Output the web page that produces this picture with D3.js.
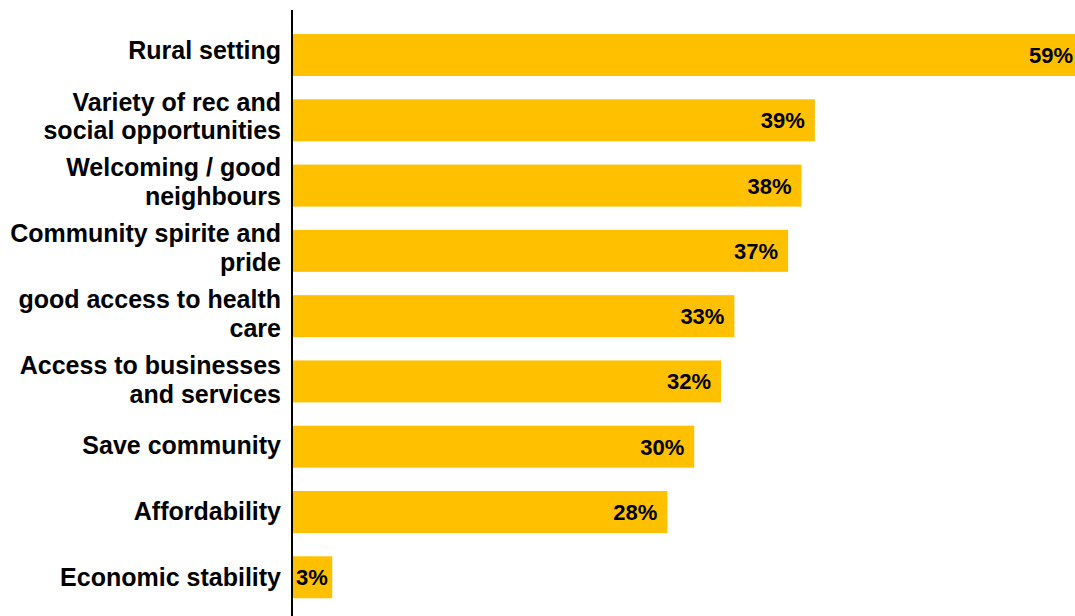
<!DOCTYPE html>
<html>
<head>
<meta charset="utf-8">
<script src="https://cdn.jsdelivr.net/npm/d3@7"></script>
<style>
  html, body { margin: 0; padding: 0; background: #fff; }
  svg { display: block; }
  text { font-family: "Liberation Sans", Arial, sans-serif; font-weight: bold; fill: #000; }
</style>
</head>
<body>
<svg id="chart" width="1075" height="616"></svg>
<script>
// Survey responses: what residents value most about their community
const categories = [
  "Rural setting",
  "Variety of rec and\nsocial opportunities",
  "Welcoming / good\nneighbours",
  "Community spirite and\npride",
  "good access to health\ncare",
  "Access to businesses\nand services",
  "Save community",
  "Affordability",
  "Economic stability"
];
const values = [59, 39, 38, 37, 33, 32, 30, 28, 3];
const valueLabels = ["59%", "39%", "38%", "37%", "33%", "32%", "30%", "28%", "3%"];

const width = 1075, height = 616;
const axisX = 292;

const svg = d3.select("#chart");

const x = d3.scaleLinear().domain([0, 59]).range([axisX, 1083]);
const y = d3.scaleBand()
  .domain(categories)
  .range([22.3, 610])
  .paddingInner(0.357)
  .paddingOuter(0.18);

// Category labels sit on their own evenly spaced points
const yLabel = d3.scalePoint()
  .domain(categories)
  .range([49.5, 577]);

// Bars
svg.append("g")
  .selectAll("rect")
  .data(values)
  .join("rect")
  .attr("x", x(0))
  .attr("y", (d, i) => y(categories[i]))
  .attr("width", d => x(d) - x(0))
  .attr("height", y.bandwidth())
  .attr("fill", "#FFC000");

// Value labels at the inner end of each bar (left-aligned when the bar is short)
svg.append("g")
  .selectAll("text")
  .data(values)
  .join("text")
  .each(function(d, i) {
    const narrow = x(d) - x(0) < 60;
    d3.select(this)
      .attr("x", narrow ? x(0) + 4 : x(d) - 10)
      .attr("text-anchor", narrow ? "start" : "end");
  })
  .attr("y", (d, i) => y(categories[i]) + y.bandwidth() / 2)
  .attr("dy", "0.36em")
  .style("font-size", "22px")
  .text((d, i) => valueLabels[i]);

// Category axis
const axis = d3.axisLeft(yLabel).tickSize(0).tickPadding(11);
const gAxis = svg.append("g")
  .attr("transform", `translate(${axisX},0)`)
  .call(axis);

gAxis.select(".domain").remove();
gAxis.append("line")
  .attr("x1", 0).attr("x2", 0)
  .attr("y1", 10).attr("y2", height)
  .attr("stroke", "#000")
  .attr("stroke-width", 2);

const lineGap = 28.5;
gAxis.selectAll(".tick text").each(function(d) {
  const lines = d.split("\n");
  const t = d3.select(this)
    .attr("dy", null)
    .attr("y", null)
    .style("font-size", "25px")
    .style("font-family", "'Liberation Sans', Arial, sans-serif")
    .style("font-weight", "bold")
    .attr("fill", "#000")
    .text(null);
  lines.forEach((ln, i) => {
    t.append("tspan")
      .attr("x", -11)
      .attr("y", 8.8 - (lines.length - 1) * lineGap / 2 + i * lineGap)
      .text(ln);
  });
});
</script>
</body>
</html>
